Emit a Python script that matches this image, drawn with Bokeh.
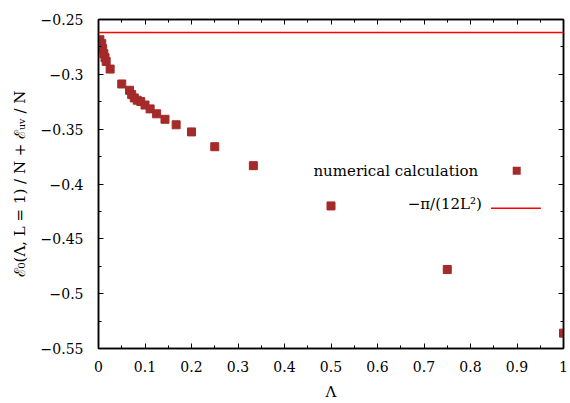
import math
from bokeh.plotting import figure
from bokeh.models import (Range1d, FixedTicker, LinearAxis, CustomJSTickFormatter,
                          Span, Label, BoxAnnotation, Arrow)
from bokeh.embed import file_html
from bokeh.resources import INLINE

# ---- data ----
lam = [0.003, 0.007, 0.009, 0.0115, 0.014, 0.0165, 0.025, 0.05, 0.0667, 0.0714,
       0.0769, 0.0833, 0.0909, 0.1, 0.111, 0.125, 0.143, 0.167, 0.2, 0.25,
       0.333, 0.5, 0.75, 1.0]
energy = [-0.2685, -0.272, -0.2766, -0.2812, -0.2848, -0.2882, -0.2952, -0.3088,
          -0.3145, -0.3185, -0.3215, -0.3236, -0.3248, -0.328, -0.3315, -0.336,
          -0.341, -0.346, -0.3525, -0.366, -0.3833, -0.42, -0.478, -0.536]
reference_level = -math.pi / 12.0   # -pi/(12 L^2) with L = 1

x_major = [0, 0.1, 0.2, 0.3, 0.4, 0.5, 0.6, 0.7, 0.8, 0.9, 1.0]
x_minor = [0.05, 0.15, 0.25, 0.35, 0.45, 0.55, 0.65, 0.75, 0.85, 0.95]
y_major = [-0.55, -0.5, -0.45, -0.4, -0.35, -0.3, -0.25]
y_minor = [-0.525, -0.475, -0.425, -0.375, -0.325, -0.275]

series_name = "numerical calculation"
line_name = "\u2212\u03c0/(12L\u00b2)"

FONT = "DejaVu Serif"
FS_TICK = "14px"
FS_TEXT = "15px"
SQ_COLOR = "#a52a2a"

p = figure(width=570, height=403, output_backend="svg", toolbar_location=None,
           x_range=Range1d(0, 1), y_range=Range1d(-0.55, -0.25),
           min_border_left=98, min_border_top=19, min_border_right=7,
           min_border_bottom=54)
p.background_fill_color = "white"
p.border_fill_color = "white"
p.outline_line_color = "black"
p.outline_line_width = 1.5
p.grid.visible = False

numfmt = CustomJSTickFormatter(code="""
const v = Math.round(tick*1000)/1000;
return (v < 0 ? '\u2212' : '') + Math.abs(v).toString();
""")
blankfmt = CustomJSTickFormatter(code="return '';")

def style_axis(ax):
    ax.axis_line_color = "black"
    ax.axis_line_width = 1.5
    ax.major_tick_in = 5
    ax.major_tick_out = 0
    ax.minor_tick_in = 3
    ax.minor_tick_out = 0
    ax.major_tick_line_color = "black"
    ax.minor_tick_line_color = "black"
    ax.major_label_text_font = FONT
    ax.major_label_text_font_size = FS_TICK
    ax.major_label_text_color = "black"
    ax.axis_label_text_font = FONT
    ax.axis_label_text_font_size = FS_TEXT
    ax.axis_label_text_font_style = "normal"
    ax.axis_label_text_color = "black"

xax = p.xaxis[0]
xax.ticker = FixedTicker(ticks=x_major, minor_ticks=x_minor)
xax.formatter = numfmt
style_axis(xax)
xax.major_label_standoff = 12
xax.axis_label = "\u039b"
xax.axis_label_standoff = 8

yax = p.yaxis[0]
yax.ticker = FixedTicker(ticks=y_major, minor_ticks=y_minor)
yax.formatter = numfmt
style_axis(yax)
yax.major_label_standoff = 15
yax.axis_label = "\u2130\u2080(\u039b, L = 1) / N + \u2130\u1d64\u1d65 / N"
yax.axis_label_standoff = 9

top = LinearAxis(ticker=FixedTicker(ticks=x_major, minor_ticks=x_minor), formatter=blankfmt)
style_axis(top)
top.major_label_standoff = 0
p.add_layout(top, "above")

right = LinearAxis(ticker=FixedTicker(ticks=y_major, minor_ticks=y_minor), formatter=blankfmt)
style_axis(right)
right.major_label_standoff = 0
p.add_layout(right, "right")

# reference line
p.add_layout(Span(location=reference_level, dimension="width",
                  line_color="#ff0000", line_width=1.5))

# data points
p.scatter(lam, energy, marker="square", size=8, fill_color=SQ_COLOR,
          line_color=SQ_COLOR)

# legend (gnuplot style: text on the left, key on the right)
p.add_layout(Label(x=0.8166, y=-0.3882, text=series_name, text_align="right",
                   text_baseline="middle", text_font=FONT, text_font_size=FS_TEXT,
                   text_color="black"))
p.add_layout(BoxAnnotation(left=0.8994 - 0.0086, right=0.8994 + 0.0086,
                           bottom=-0.3879 - 0.0036, top=-0.3879 + 0.0036,
                           fill_color=SQ_COLOR, fill_alpha=1.0, line_color=None))
p.add_layout(Label(x=0.8245, y=-0.4185, text=line_name, text_align="right",
                   text_baseline="middle", text_font=FONT, text_font_size=FS_TEXT,
                   text_color="black"))
p.add_layout(Arrow(end=None, x_start=0.844, x_end=0.9514, y_start=-0.4221,
                   y_end=-0.4221, line_color="#ff0000", line_width=1.5))

open("out.html", "w").write(file_html(p, INLINE))
